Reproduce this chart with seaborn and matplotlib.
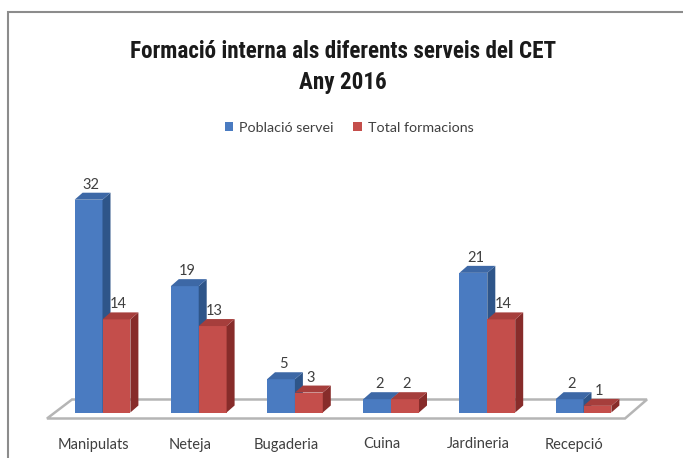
import matplotlib
matplotlib.use("Agg")
import matplotlib.pyplot as plt
import matplotlib.patches as mpatches
from matplotlib.transforms import ScaledTranslation
from matplotlib import font_manager
import seaborn as sns
import pandas as pd

categories = ["Manipulats", "Neteja", "Bugaderia", "Cuina", "Jardineria", "Recepció"]
poblacio = [32, 19, 5, 2, 21, 2]
formacions = [14, 13, 3, 2, 14, 1]
series_names = ["Població servei", "Total formacions"]
title_text = "Formació interna als diferents serveis del CET\nAny 2016"

front_cols = ["#4A7BC1", "#C44E4B"]
top_cols = ["#3D68A6", "#A63E3C"]
side_cols = ["#2E5589", "#872C2A"]

df = pd.DataFrame({
    "cat": categories * 2,
    "val": poblacio + formacions,
    "serie": [series_names[0]] * len(categories) + [series_names[1]] * len(categories),
})

sns.set_style("white")
plt.rcParams["font.family"] = ["Lato", "DejaVu Sans"]

W, H = 683, 458
fig = plt.figure(figsize=(W / 100, H / 100), dpi=100)

x0_px, xspan = 102.5, 96.2
xlim = (-0.6, 5.6)
base_px, per_unit = 412.5, 6.65
ylim = (0, 36)
left = (x0_px + xlim[0] * xspan) / W
width = (xlim[1] - xlim[0]) * xspan / W
bottom = (H - base_px) / H
height = (ylim[1] - ylim[0]) * per_unit / H
ax = fig.add_axes([left, bottom, width, height])

sns.barplot(data=df, x="cat", y="val", hue="serie", order=categories,
            hue_order=series_names, palette=front_cols, width=0.58,
            saturation=1, ax=ax, legend=False, edgecolor="none", linewidth=0)
ax.set_xlim(*xlim)
ax.set_ylim(*ylim)
for s in ax.spines.values():
    s.set_visible(False)
ax.set_xlabel("")
ax.set_ylabel("")
ax.set_yticks([])
ax.tick_params(axis="x", length=0, pad=18)
for lab in ax.get_xticklabels():
    lab.set_fontsize(10.5)
    lab.set_color("#3f3f3f")
    lab.set_transform(lab.get_transform() + ScaledTranslation(-9 / 100, 0, fig.dpi_scale_trans))

dx = 8 / xspan
dy = 7 / per_unit

fy_front = -6 / per_unit
fy_back = 13 / per_unit
floor = mpatches.Polygon(
    [((47 - x0_px) / xspan, fy_front), ((625 - x0_px) / xspan, fy_front),
     ((647 - x0_px) / xspan, fy_back), ((72 - x0_px) / xspan, fy_back)],
    closed=True, facecolor="white", edgecolor="#b5b5b5", linewidth=1.8,
    clip_on=False, zorder=0.5)
ax.add_patch(floor)

patches = list(ax.patches)
ncat = len(categories)
for i, p in enumerate(patches[:2 * ncat]):
    si = i // ncat
    x, w, h = p.get_x(), p.get_width(), p.get_height()
    p.set_zorder(2 + (i % ncat) * 0.01 + si * 0.001)
    z = p.get_zorder()
    side = mpatches.Polygon([(x + w, 0), (x + w + dx, dy), (x + w + dx, h + dy), (x + w, h)],
                            closed=True, facecolor=side_cols[si], edgecolor="none",
                            zorder=z, clip_on=False)
    top = mpatches.Polygon([(x, h), (x + w, h), (x + w + dx, h + dy), (x + dx, h + dy)],
                           closed=True, facecolor=top_cols[si], edgecolor="none",
                           zorder=z, clip_on=False)
    ax.add_patch(side)
    ax.add_patch(top)
    ax.annotate(f"{int(h)}", xy=(x + w / 2, h), xytext=(2, 15),
                textcoords="offset pixels", ha="center", va="center",
                fontsize=10.5, color="#3f3f3f", zorder=5, annotation_clip=False)

avail = {f.name for f in font_manager.fontManager.ttflist}
tfam = None
for cand in ["Roboto Condensed", "Liberation Sans Narrow", "Open Sans Condensed", "Roboto"]:
    if cand in avail:
        tfam = cand
        break
if tfam is None:
    tfam = "DejaVu Sans"

t1, t2 = title_text.split("\n")
tkw = dict(ha="center", va="center", fontweight="bold", family=[tfam, "DejaVu Sans"],
           color="#1a1a1a")
if tfam == "DejaVu Sans":
    tkw["fontstretch"] = "condensed"
txt1 = fig.text(343 / W, 1 - 52 / H, t1, fontsize=15, **tkw)
fig.canvas.draw()
wpx = txt1.get_window_extent().width
fs = 15 * 427 / wpx
txt1.set_fontsize(fs)
fig.text(343 / W, 1 - 82 / H, t2, fontsize=fs, **tkw)

handles = [mpatches.Patch(facecolor=c, edgecolor="none") for c in front_cols]
fig.legend(handles, series_names, loc="center", bbox_to_anchor=(349 / W, 1 - 128 / H),
           ncol=2, frameon=False, fontsize=10.3, handlelength=0.6, handleheight=0.6,
           handletextpad=0.4, columnspacing=1.4, labelcolor="#404040")

frame = mpatches.Rectangle((8 / W, -0.1), 1.2, 1.1 - 12 / H, transform=fig.transFigure,
                           facecolor="none", edgecolor="#8c8c8c", linewidth=1.5)
fig.patches.append(frame)

fig.savefig("out.png", dpi=100)
